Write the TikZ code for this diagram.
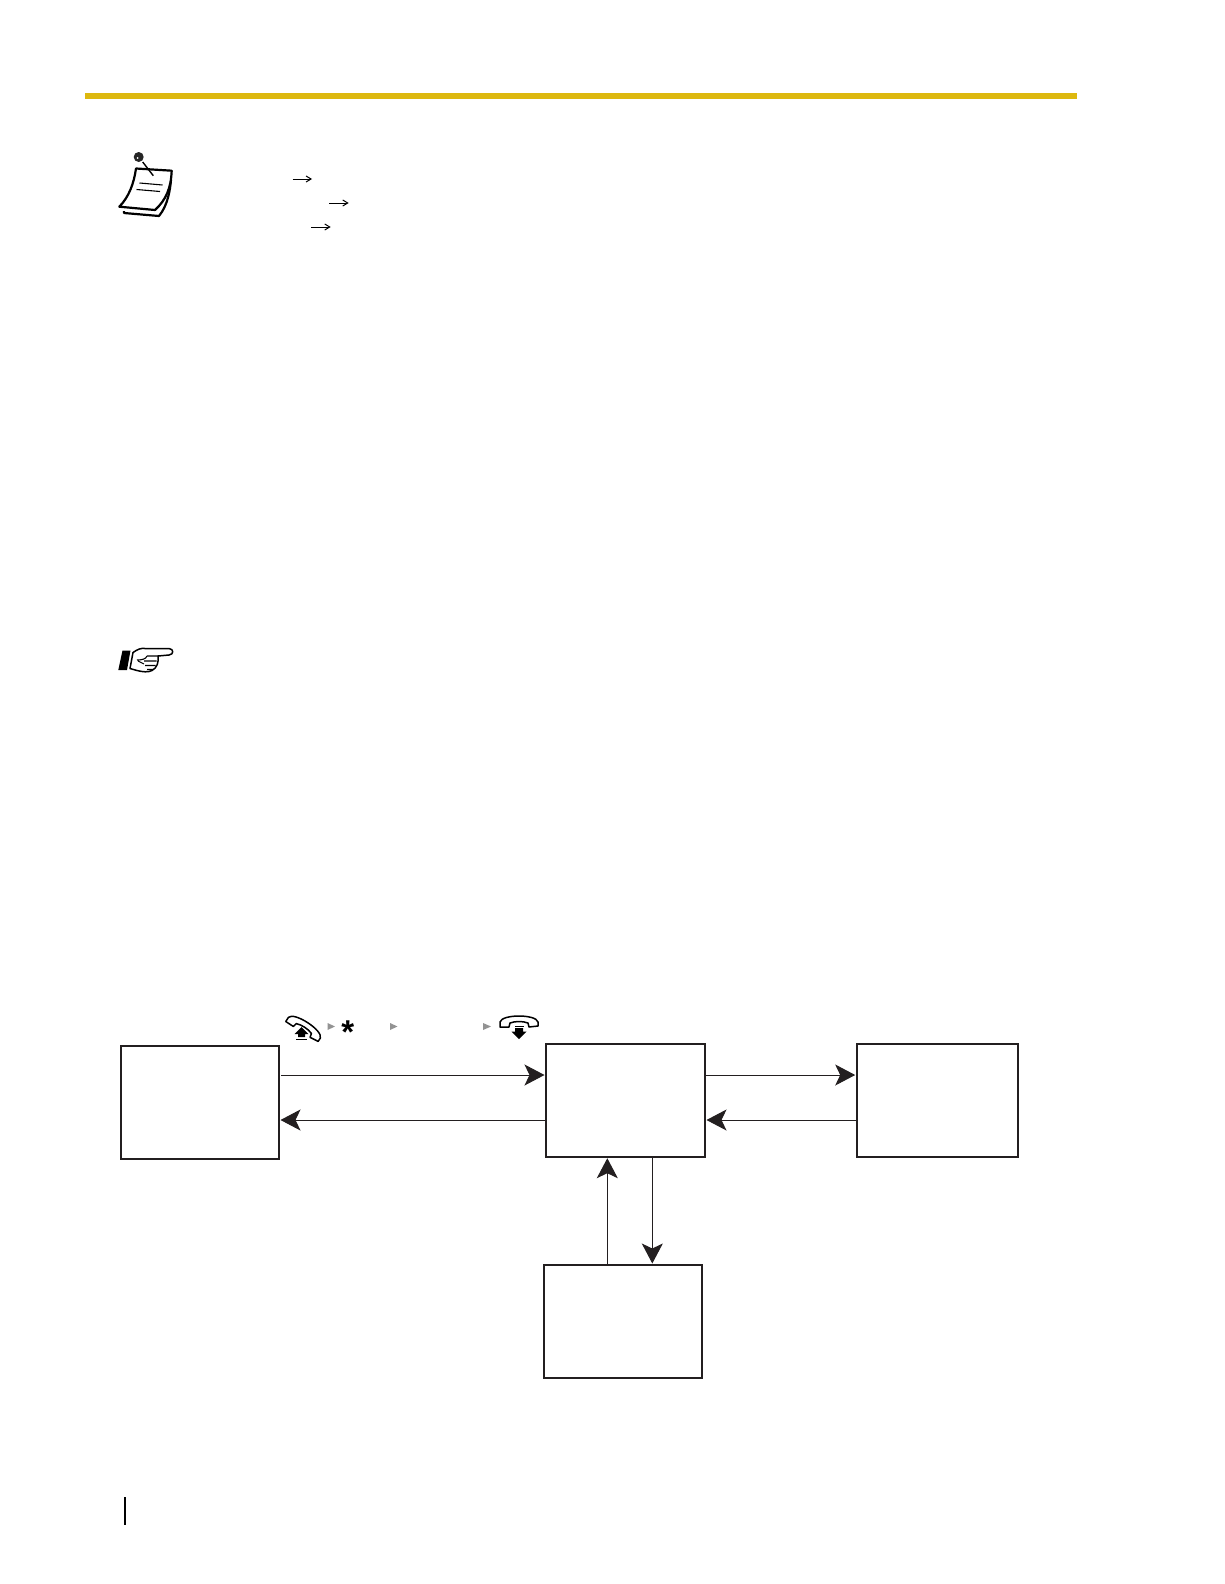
\documentclass[tikz,border=0pt]{standalone}
\usepackage{fontspec}
\newfontfamily\starfont{Liberation Sans}
\usetikzlibrary{arrows.meta}
\definecolor{ink}{HTML}{231F20}
\definecolor{rulegold}{HTML}{DDB80F}
\tikzset{
  statebox/.style={draw=ink,line width=1.7pt,fill=white,inner sep=0pt,outer sep=0pt,rectangle},
  flow/.style={draw=ink,line width=1pt,-{Stealth[length=20pt,width=21pt,inset=5pt,color=ink]},shorten >=1.5pt},
  thinarrow/.style={line width=1pt,-{Straight Barb[length=5pt,width=6pt]}},
  playtri/.style={fill=gray!85,draw=none},
  handset/.pic={
    \path[draw=black,fill=white,line width=1.5pt,line join=round]
      (-19,2) .. controls (-17,-6) and (17,-6) .. (19,2)
      -- (19,6) -- (10,7) -- (9,3) .. controls (4,1) and (-4,1) .. (-9,3)
      -- (-10,7) -- (-19,7) -- cycle;
  },
  notepage/.style={draw=black,line width=2.2pt,fill=white,line join=round},
}
\begin{document}
\begin{tikzpicture}[x=1pt,y=-1pt]
\useasboundingbox (0,0) rectangle (1224,1584);
\fill[white] (0,0) rectangle (1224,1584);

% top rule and page margin tick
\fill[rulegold] (85,93) rectangle (1077,99);
\fill[black] (124,1497) rectangle (126,1525);

% note icon
\path[notepage] (124,211) -- (124,213) -- (159,216) .. controls (168,205) and (170,190) .. (171,180);
\path[notepage] (136,168.5) -- (171.7,170.7) .. controls (171,188) and (166,200) .. (155,210)
  -- (119.3,206.7) .. controls (129,197) and (134,183) .. (136,168.5) -- cycle;
\draw[line width=1.1pt] (139.5,183) -- (162.5,185);
\draw[line width=1.1pt] (136.5,189.5) -- (160,191.5);
\draw[line width=1.4pt] (142.7,162) -- (153.3,175.7);
\fill[black!85] (138.7,157) circle (5);
\fill[white] (137.5,158) circle (1);

% small arrows
\draw[thinarrow] (292.5,179) -- (312,179);
\draw[thinarrow] (329,203) -- (348.7,203);
\draw[thinarrow] (311,227) -- (330.7,227);

% pointing hand icon
\fill[black] (122.5,650.5) -- (130.5,650.5) -- (127,670) -- (118.3,670) -- cycle;
\path[draw=black,fill=white,line width=1.5pt,line join=round]
  (133,652.5) .. controls (138,649) and (141,648) .. (145,648.5)
  -- (169,648.5) .. controls (174,649) and (174,654.5) .. (169,655)
  -- (158,656) .. controls (159,662) and (157,668) .. (152,670.5)
  .. controls (148,672.5) and (143,672) .. (137,670.5)
  -- (130,668.5) -- cycle;
\draw[line width=1.1pt] (158,656) -- (147,656) (137,660) .. controls (142,660) and (146,659) .. (147,656)
  (144,661) -- (156.5,661) (145,665.5) -- (155.5,665.5) (147,669.5) -- (153,669.5) (138,661) -- (144,664);

% telephone sequence above the first arrow
\pic[rotate=-33] at (305.5,1026) {handset};
\fill[black] (301.5,1027) -- (308.5,1034) -- (305,1034) -- (305,1037) -- (298,1037) -- (298,1034) -- (294.5,1034) -- cycle;
\fill[black] (296,1038.5) rectangle (307,1040.2);
\fill[playtri] (327.5,1023) -- (335,1026.5) -- (327.5,1030) -- cycle;
\node[inner sep=0pt,text=black] (star) at (347.7,1032.5) {\starfont\bfseries\fontsize{33}{33}\selectfont *};
\fill[playtri] (390,1023) -- (397.5,1026.5) -- (390,1030) -- cycle;
\fill[playtri] (483,1023) -- (491,1026.5) -- (483,1030) -- cycle;
\pic at (519,1020) {handset};
\fill[black] (519,1039) -- (511.5,1031.5) -- (515,1031.5) -- (515,1028) -- (523,1028) -- (523,1031.5) -- (526.5,1031.5) -- cycle;
\fill[black] (514.5,1025.7) rectangle (523.5,1027);

% state boxes
\node[statebox,minimum width=158.2pt,minimum height=112.9pt] (boxA) at (199.9,1102.2) {};
\node[statebox,minimum width=159pt,minimum height=112.7pt] (boxB) at (625.5,1100.35) {};
\node[statebox,minimum width=161.3pt,minimum height=112.7pt] (boxC) at (937.35,1100.35) {};
\node[statebox,minimum width=158pt,minimum height=112.7pt] (boxD) at (623,1321.35) {};

% connector levels
\coordinate (rowOut) at (0,1075);
\coordinate (rowBack) at (0,1120);
\coordinate (colUp) at (607.3,0);
\coordinate (colDown) at (652.3,0);

% connectors
\draw[flow,shorten <=2pt] (boxA.east |- rowOut) -- (boxB.west |- rowOut);
\draw[flow] (boxB.west |- rowBack) -- (boxA.east |- rowBack);
\draw[flow] (boxB.east |- rowOut) -- (boxC.west |- rowOut);
\draw[flow] (boxC.west |- rowBack) -- (boxB.east |- rowBack);
\draw[flow] (colUp |- boxD.north) -- (colUp |- boxB.south);
\draw[flow] (colDown |- boxB.south) -- (colDown |- boxD.north);
\end{tikzpicture}
\end{document}
